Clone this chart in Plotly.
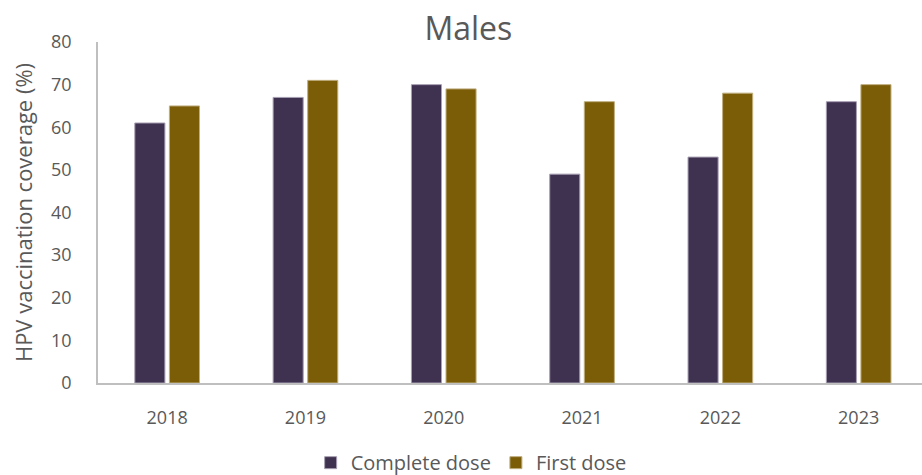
import plotly.graph_objects as go

years = ["2018", "2019", "2020", "2021", "2022", "2023"]
complete_dose = [61, 67, 70, 49, 53, 66]
first_dose = [65, 71, 69, 66, 68, 70]
y_ticks = [0, 10, 20, 30, 40, 50, 60, 70, 80]

font_family = "Open Sans, Noto Sans, sans-serif"
text_color = "#595959"

fig = go.Figure()
fig.add_trace(go.Bar(
    x=years, y=complete_dose, name="Complete dose",
    marker=dict(color="#3F3150", line=dict(color="#A79FB2", width=1)),
))
fig.add_trace(go.Bar(
    x=years, y=first_dose, name="First dose",
    marker=dict(color="#7B5C07", line=dict(color="#BFAE7F", width=1)),
))

fig.update_layout(
    width=922, height=475,
    margin=dict(l=98, r=0, t=42, b=92),
    paper_bgcolor="white", plot_bgcolor="white",
    font=dict(family=font_family, color=text_color, size=16),
    barmode="group", bargap=0.5, bargroupgap=0.13,
    title=dict(text="Males", x=0.508, xref="container", y=0.94,
               yref="container", xanchor="center", yanchor="middle",
               font=dict(size=32, color=text_color)),
    showlegend=True,
    legend=dict(orientation="h", x=0.511, xref="container", xanchor="center",
                y=0.026, yref="container", yanchor="middle",
                font=dict(size=20, color=text_color), itemwidth=30,
                traceorder="normal"),
    xaxis=dict(type="category", range=[-0.5, 5.458], showline=True,
               linecolor="#BFBFBF", linewidth=1.5, showgrid=False,
               ticks="", ticklabelstandoff=18,
               tickfont=dict(size=18, color=text_color)),
    yaxis=dict(range=[0, 80], tickvals=y_ticks, showline=True,
               linecolor="#BFBFBF", linewidth=1.5, showgrid=False,
               zeroline=False, ticks="", ticklabelstandoff=21,
               tickfont=dict(size=18, color=text_color),
               title=dict(text="HPV vaccination coverage (%)", standoff=12,
                          font=dict(size=22, color=text_color))),
)

fig.write_html("out.html")
